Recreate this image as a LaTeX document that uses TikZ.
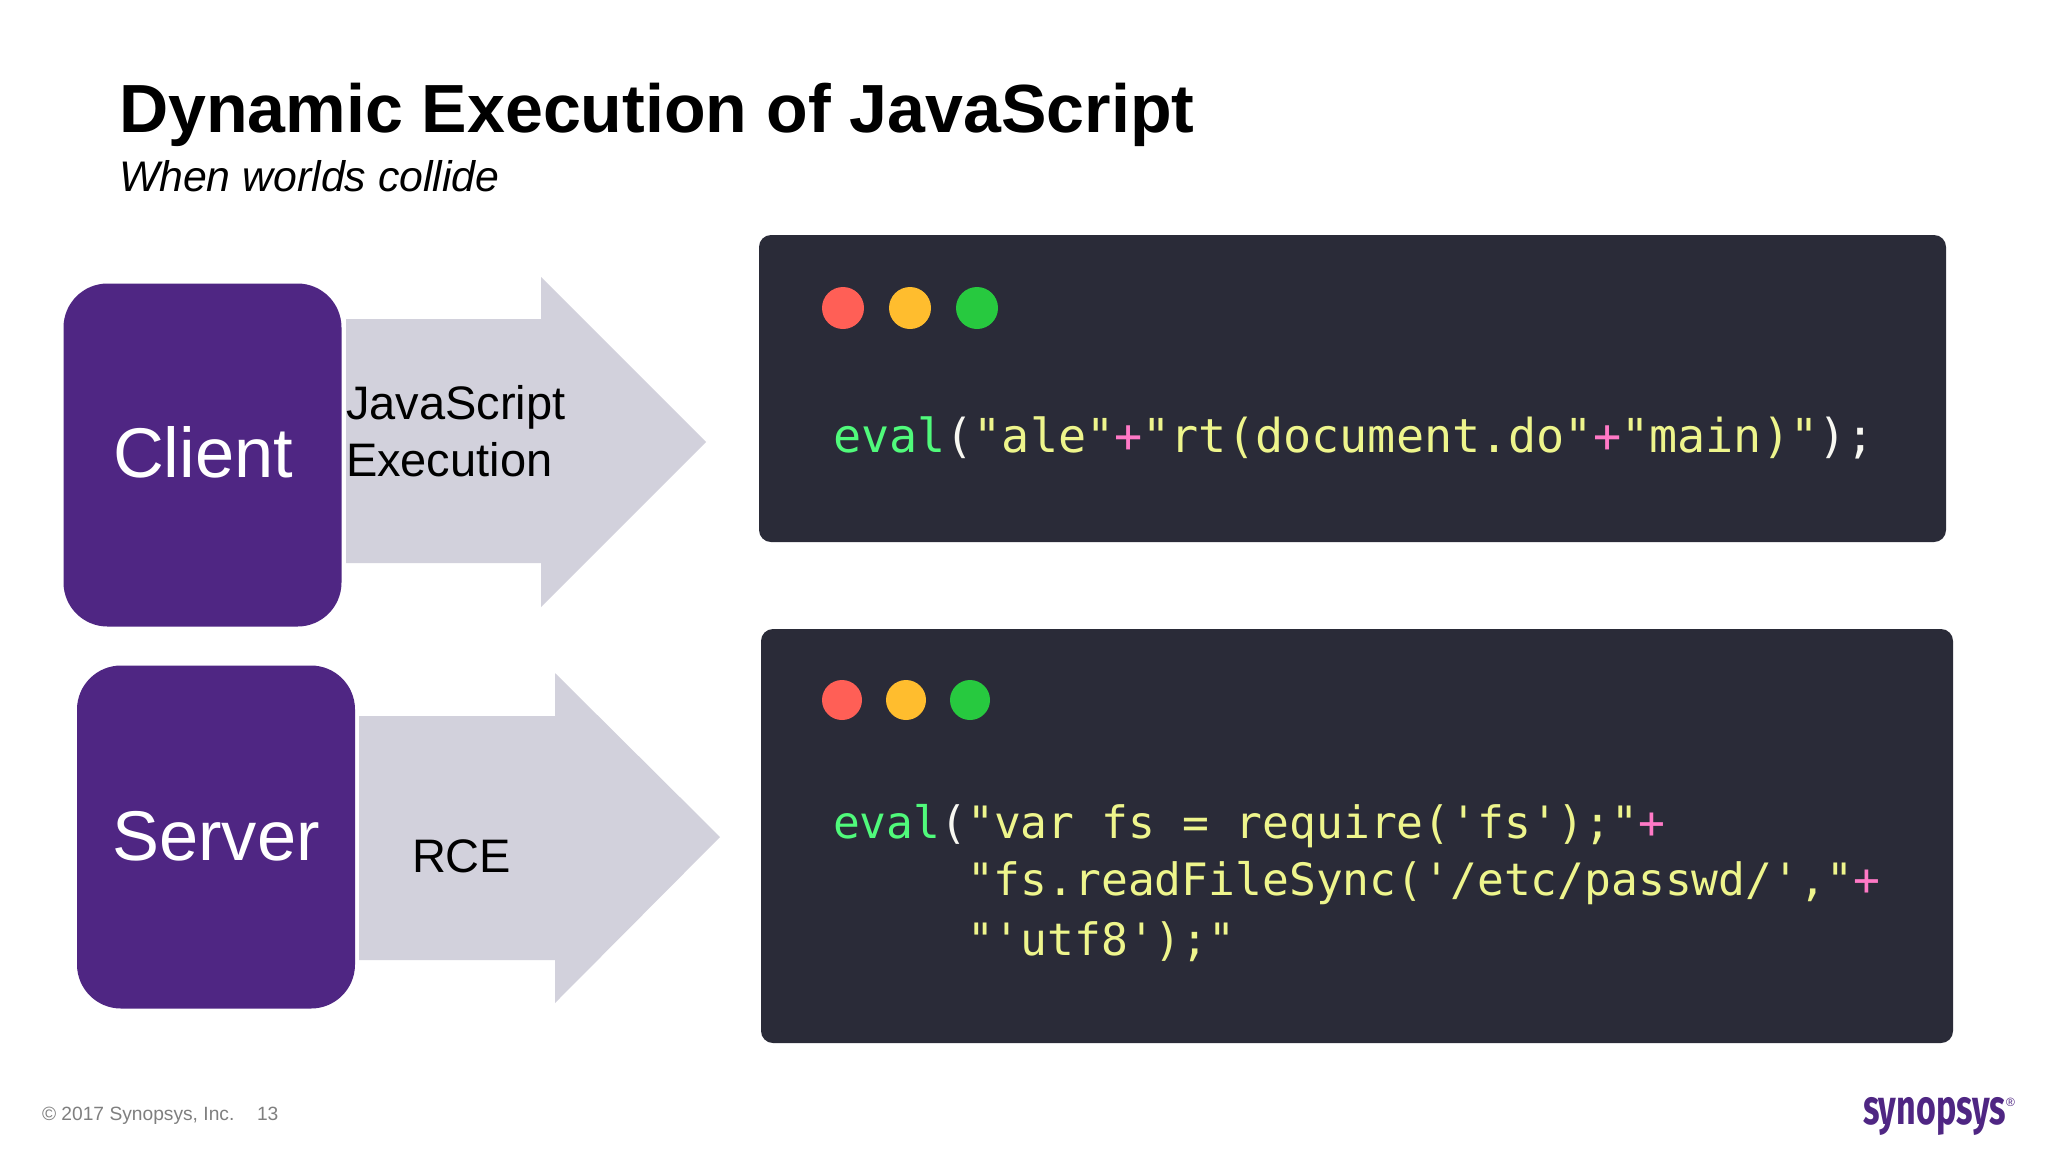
\documentclass[tikz,border=0pt]{standalone}
\usepackage{fontspec}
\setmainfont{Liberation Sans}
\newfontfamily\codefont{DejaVu Sans Mono}
\newfontfamily\logofont{Fira Sans}
\definecolor{purplebox}{HTML}{4F2683}
\definecolor{arrowgrey}{HTML}{D2D1DC}
\definecolor{codebg}{HTML}{2A2B38}
\definecolor{cgreen}{HTML}{50FA7B}
\definecolor{cyellow}{HTML}{EEF58C}
\definecolor{cpink}{HTML}{FF79C6}
\definecolor{cwhite}{HTML}{F8F8F2}
\definecolor{dred}{HTML}{FF5F56}
\definecolor{dorange}{HTML}{FFBD2E}
\definecolor{dgreen}{HTML}{27C93F}
\definecolor{footgrey}{HTML}{7F7F7F}
\newcommand{\fsz}[1]{\fontsize{#1}{#1}\selectfont}
\newcommand{\G}[1]{\textcolor{cgreen}{#1}}
\newcommand{\Y}[1]{\textcolor{cyellow}{#1}}
\newcommand{\Pk}[1]{\textcolor{cpink}{#1}}
\newcommand{\W}[1]{\textcolor{cwhite}{#1}}
\tikzset{
  px/.style={x=0.5pt,y=-0.5pt},
  lbl/.style={inner sep=0pt,outer sep=0pt,anchor=base west},
  lblc/.style={inner sep=0pt,outer sep=0pt,anchor=base},
  actor/.style={fill=purplebox,rounded corners=22pt,inner sep=0pt,minimum width=139pt,minimum height=171.5pt},
  flow/.style={fill=arrowgrey},
  codebox/.style={fill=codebg,rounded corners=6pt,inner sep=0pt},
  dot/.style={circle,inner sep=0pt,minimum size=21pt},
  codeone/.style={lbl,font=\codefont\fsz{23.38}},
  codetwo/.style={lbl,font=\codefont\fsz{22.3}},
}
\begin{document}
\begin{tikzpicture}[px]
\useasboundingbox (0,0) rectangle (2048,1152);
\fill[white] (0,0) rectangle (2048,1152);
% title
\node[lbl,font=\bfseries\fsz{34.07}] (title) at (119,132) {Dynamic Execution of JavaScript};
\node[lbl,font=\itshape\fsz{21.4}] (subtitle) at (119,191) {When worlds collide};
% arrows
\fill[flow] (346,319) -- (541,319) -- (541,277) -- (706,442) -- (541,607) -- (541,563) -- (346,563) -- cycle;
\fill[flow] (359,716) -- (555,716) -- (555,673) -- (720,837) -- (555,1003) -- (555,960) -- (359,960) -- cycle;
% actors
\node[actor] (client) at (202.5,455) {};
\node[actor] (server) at (216,837) {};
\node[lblc,font=\fsz{35.2},text=white] (clientlabel) at (203,477) {Client};
\node[lblc,font=\fsz{35.2},text=white] (serverlabel) at (216,860) {Server};
\node[lbl,font=\fsz{23.5}] (js) at (346,419) {JavaScript};
\node[lbl,font=\fsz{23.5}] (exec) at (346,476) {Execution};
\node[lbl,font=\fsz{23.5}] (rce) at (412,872) {RCE};
% code windows
\node[codebox,minimum width=593.5pt,minimum height=153.5pt] (codea) at (1352.5,388.5) {};
\node[codebox,minimum width=596pt,minimum height=207pt] (codeb) at (1357,836) {};
\node[dot,fill=dred] (a1) at (843,308) {};
\node[dot,fill=dorange] (a2) at (910,308) {};
\node[dot,fill=dgreen] (a3) at (977,308) {};
\node[dot,minimum size=20pt,fill=dred] (b1) at (842,700) {};
\node[dot,minimum size=20pt,fill=dorange] (b2) at (906,700) {};
\node[dot,minimum size=20pt,fill=dgreen] (b3) at (970,700) {};
\node[codeone] (l1) at (833,452) {\G{eval}\W{(}\Y{"ale"}\Pk{+}\Y{"rt(document.do"}\Pk{+}\Y{"main)"}\W{)}\W{;}};
\node[codetwo] (l2) at (833,838) {\G{eval}\W{(}\Y{"var fs = require('fs');"}\Pk{+}};
\node[codetwo] (l3) at (967,895) {\Y{"fs.readFileSync('/etc/passwd/',"}\Pk{+}};
\node[codetwo] (l4) at (967,955) {\Y{"'utf8');"}};
% footer
\node[lbl,font=\fsz{9.6},text=footgrey] (copy) at (42,1120) {© 2017 Synopsys, Inc.};
\node[lbl,font=\fsz{9.6},text=footgrey] (page) at (257,1120) {13};
% logo
\node[lbl,font=\logofont\bfseries\fsz{26},text=purplebox] (logo) at (1863,1124) {\scalebox{0.655}[0.95]{synopsys}};
\node[lbl,font=\fsz{6},text=purplebox] (reg) at (2006,1106) {®};
\end{tikzpicture}
\end{document}
